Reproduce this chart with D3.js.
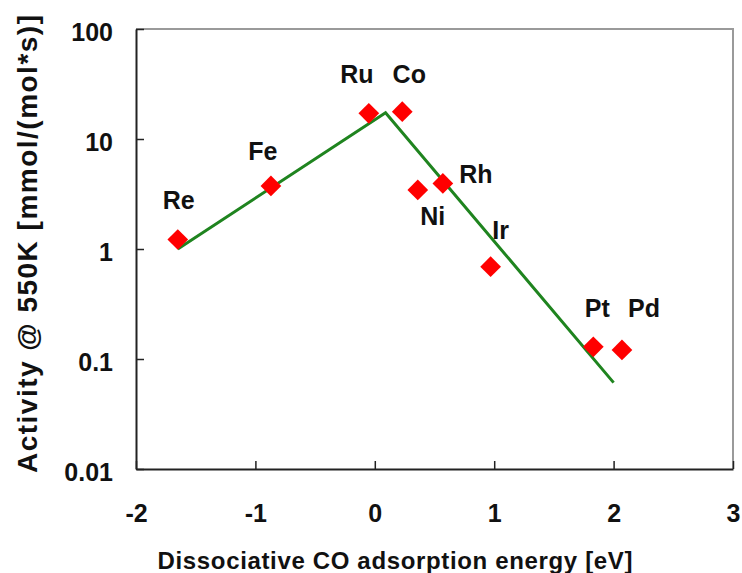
<!DOCTYPE html>
<html>
<head>
<meta charset="utf-8">
<script src="https://cdn.jsdelivr.net/npm/d3@7"></script>
<style>
  body { margin: 0; background: #fff; }
  text { font-family: "Liberation Sans", Arial, sans-serif; font-weight: bold; fill: #111; }
</style>
</head>
<body>
<svg id="chart" width="742" height="573"></svg>
<script>
// data
const metals   = ["Re", "Fe", "Ru", "Co", "Ni", "Rh", "Ir", "Pt", "Pd"];
const energy   = [-1.65, -0.87, -0.05, 0.23, 0.36, 0.57, 0.97, 1.83, 2.07];
const activity = [1.22, 3.74, 17.1, 17.7, 3.44, 3.95, 0.69, 0.129, 0.121];

// volcano fit (green line)
const fitX = [-1.65, 0.09, 2.0];
const fitY = [1.0, 17.3, 0.061];

const xTicks = [-2, -1, 0, 1, 2, 3];
const yTicks = [100, 10, 1, 0.1, 0.01];

// where each metal name sits relative to its marker (px)
const labelOffset = {
  Re: [1, -31], Fe: [-8, -26], Ru: [-12, -30], Co: [7, -29], Ni: [15, 35],
  Rh: [33, 0], Ir: [10, -28], Pt: [4, -30], Pd: [22, -33]
};

const svg = d3.select("#chart");
svg.selectAll("*").remove();

const plotL = 136, plotR = 733, plotT = 29, plotB = 469;

const x = d3.scaleLinear().domain([-2, 3]).range([plotL, plotR]);
const y = d3.scaleLog().domain([0.01, 100]).range([plotB, plotT]);

// top and right frame (grey)
svg.append("path")
  .attr("d", `M${plotL},${plotT}H${plotR}V${plotB}`)
  .attr("fill", "none")
  .attr("stroke", "#9a9a9a")
  .attr("stroke-width", 2);

// x axis, ticks pointing into the plot
const xAxis = svg.append("g")
  .attr("transform", `translate(0,${plotB})`)
  .call(d3.axisBottom(x).tickValues(xTicks).tickSize(-8).tickSizeOuter(0)
    .tickFormat(d => String(d)));
xAxis.select(".domain").attr("stroke", "#222").attr("stroke-width", 2);
xAxis.selectAll(".tick line").attr("stroke", "#222").attr("stroke-width", 1.5);
xAxis.selectAll(".tick text")
  .attr("font-size", 25).attr("fill", "#111")
  .attr("dy", 0).attr("y", 53);
xAxis.attr("font-family", null);

// y axis
const yAxis = svg.append("g")
  .attr("transform", `translate(${plotL},0)`)
  .call(d3.axisLeft(y).tickValues(yTicks).tickSize(-8).tickSizeOuter(0)
    .tickFormat(d => String(d)));
yAxis.select(".domain").attr("stroke", "#222").attr("stroke-width", 2);
yAxis.selectAll(".tick line").attr("stroke", "#222").attr("stroke-width", 1.5);
yAxis.selectAll(".tick text")
  .attr("font-size", 25).attr("fill", "#111")
  .attr("x", -23).attr("dy", 0).attr("y", 11);
yAxis.attr("font-family", null);

// fit line
const line = d3.line().x(d => x(d[0])).y(d => y(d[1]));
svg.append("path")
  .datum(d3.zip(fitX, fitY))
  .attr("d", line)
  .attr("fill", "none")
  .attr("stroke", "#1f841f")
  .attr("stroke-width", 3);

// red diamonds
const pts = metals.map((m, i) => ({ name: m, e: energy[i], a: activity[i] }));
svg.selectAll(".pt")
  .data(pts)
  .join("path")
  .attr("class", "pt")
  .attr("d", d3.symbol(d3.symbolSquare, 215))
  .attr("transform", d => `translate(${x(d.e)},${y(d.a)}) rotate(45)`)
  .attr("fill", "#ff0000");

// metal labels
svg.selectAll(".lbl")
  .data(pts)
  .join("text")
  .attr("class", "lbl")
  .attr("x", d => x(d.e) + labelOffset[d.name][0])
  .attr("y", d => y(d.a) + labelOffset[d.name][1])
  .attr("text-anchor", "middle")
  .attr("font-size", 25)
  .text(d => d.name);

// axis titles
svg.append("text")
  .attr("x", 395).attr("y", 569)
  .attr("text-anchor", "middle")
  .attr("font-size", 24)
  .attr("textLength", 475).attr("lengthAdjust", "spacing")
  .text("Dissociative CO adsorption energy [eV]");

svg.append("text")
  .attr("transform", "translate(37,244) rotate(-90)")
  .attr("text-anchor", "middle")
  .attr("font-size", 28)
  .attr("textLength", 458).attr("lengthAdjust", "spacing")
  .text("Activity @ 550K [mmol/(mol*s)]");
</script>
</body>
</html>
